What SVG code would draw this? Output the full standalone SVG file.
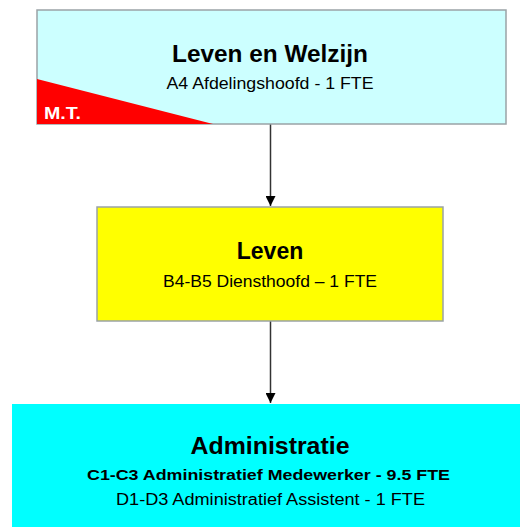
<svg xmlns="http://www.w3.org/2000/svg" width="520" height="527" viewBox="0 0 520 527">
<defs>
<style>
.t{font-family:"Liberation Sans",Arial,sans-serif;text-anchor:middle;fill:#000}
.h{font-weight:bold;font-size:23px}
.s{font-size:16px}
.b{font-weight:bold;font-size:15px}
.box{stroke:#9aa3a6;stroke-width:1.5}
.conn{stroke:#333;stroke-width:1.5;fill:none}
</style>
<marker id="arr" viewBox="0 0 10 10" refX="10" refY="5" markerWidth="10" markerHeight="10" markerUnits="userSpaceOnUse" orient="auto">
<path d="M0,0 L10,5 L0,10 z" fill="#000"/>
</marker>
</defs>
<rect width="520" height="527" fill="#fff"/>
<g id="connectors">
<line class="conn" x1="270.5" y1="124" x2="270.5" y2="206" marker-end="url(#arr)"/>
<line class="conn" x1="270.5" y1="321" x2="270.5" y2="403" marker-end="url(#arr)"/>
</g>
<g id="node-leven-en-welzijn">
<rect class="box" x="37" y="10" width="469" height="114" fill="#ccffff"/>
<polygon points="37,79 213,124 37,124" fill="#ff0000"/>
<text x="44" y="119" font-family="Liberation Sans,Arial,sans-serif" font-weight="bold" font-size="16" fill="#fff" textLength="37" lengthAdjust="spacingAndGlyphs">M.T.</text>
<text class="t h" x="270" y="62" textLength="196" lengthAdjust="spacingAndGlyphs">Leven en Welzijn</text>
<text class="t s" x="270" y="89" textLength="207" lengthAdjust="spacingAndGlyphs">A4 Afdelingshoofd - 1 FTE</text>
</g>
<g id="node-leven">
<rect class="box" x="97" y="207" width="346" height="114" fill="#ffff00"/>
<text class="t h" x="270" y="259">Leven</text>
<text class="t s" x="270" y="287" textLength="214" lengthAdjust="spacingAndGlyphs">B4-B5 Diensthoofd – 1 FTE</text>
</g>
<g id="node-administratie">
<rect x="12" y="404" width="520" height="130" fill="#00ffff"/>
<text class="t h" x="270" y="454" textLength="159" lengthAdjust="spacingAndGlyphs">Administratie</text>
<text class="t b" x="268.5" y="480" textLength="363" lengthAdjust="spacingAndGlyphs">C1-C3 Administratief Medewerker - 9.5 FTE</text>
<text class="t s" x="270.5" y="505" textLength="309" lengthAdjust="spacingAndGlyphs">D1-D3 Administratief Assistent - 1 FTE</text>
</g>
</svg>
